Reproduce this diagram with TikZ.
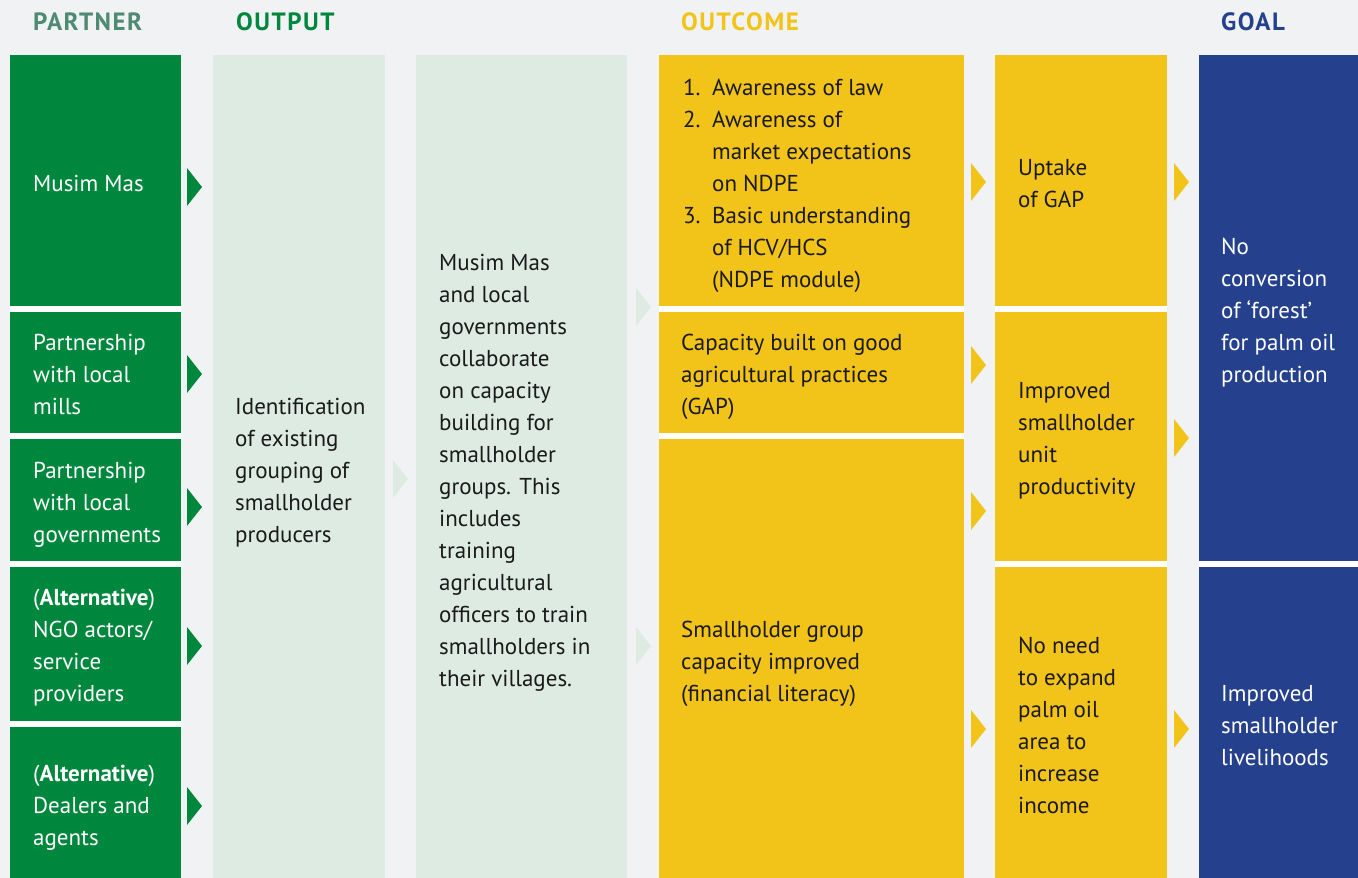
\documentclass[tikz,border=0pt]{standalone}
\usepackage{fontspec}
\setmainfont{PT Sans}
\usetikzlibrary{calc}
\definecolor{bg}{HTML}{F1F2F4}
\definecolor{dg}{HTML}{00873E}
\definecolor{lg}{HTML}{DEEBE2}
\definecolor{yl}{HTML}{F2C318}
\definecolor{bl}{HTML}{25418E}
\definecolor{ph}{HTML}{4F8A72}
\definecolor{ink}{HTML}{1A1A1A}
\newcommand{\bodyfont}{\fontsize{23}{32}\selectfont}
\newcommand{\headfont}{\fontsize{25}{28}\selectfont\bfseries\addfontfeatures{LetterSpace=6}}
\newcommand{\tri}[3]{\fill[#1] (#2,#3-19) -- ++(15,19) -- ++(-15,19) -- cycle;}
\tikzstyle{box}=[rectangle,inner sep=0pt,anchor=north west]
\tikzstyle{txt}=[anchor=west,align=left,inner sep=0pt,font=\bodyfont]
\tikzstyle{head}=[anchor=west,inner sep=0pt,font=\headfont]

\begin{document}
\begin{tikzpicture}[x=1pt,y=-1pt]
	\fill[bg] (0,0) rectangle (1358,878);
	\useasboundingbox (0,0) rectangle (1358,878);
	\fill[white] (10,55) rectangle (181,878);
	\fill[white] (659,55) rectangle (964,878);
	\fill[white] (995,55) rectangle (1167,878);
	\fill[white] (1199,55) rectangle (1358,878);

	\node[head,text=ph] (hp) at (33,22) {PARTNER};
	\node[head,text=dg] (ho) at (236,22) {OUTPUT};
	\node[head,text=yl] (hc) at (681,22) {OUTCOME};
	\node[head,text=bl] (hg) at (1221,22) {GOAL};

	\node[box,fill=dg,minimum width=171,minimum height=251] (p1) at (10,55) {};
	\node[box,fill=dg,minimum width=171,minimum height=121] (p2) at (10,312) {};
	\node[box,fill=dg,minimum width=171,minimum height=122] (p3) at (10,439) {};
	\node[box,fill=dg,minimum width=171,minimum height=154] (p4) at (10,567) {};
	\node[box,fill=dg,minimum width=171,minimum height=151] (p5) at (10,727) {};

	\node[box,fill=lg,minimum width=172,minimum height=823] (o1) at (213,55) {};
	\node[box,fill=lg,minimum width=211,minimum height=823] (o2) at (416,55) {};

	\node[box,fill=yl,minimum width=305,minimum height=251] (c1) at (659,55) {};
	\node[box,fill=yl,minimum width=305,minimum height=121] (c2) at (659,312) {};
	\node[box,fill=yl,minimum width=305,minimum height=439] (c3) at (659,439) {};

	\node[box,fill=yl,minimum width=172,minimum height=251] (d1) at (995,55) {};
	\node[box,fill=yl,minimum width=172,minimum height=249] (d2) at (995,312) {};
	\node[box,fill=yl,minimum width=172,minimum height=311] (d3) at (995,567) {};

	\node[box,fill=bl,minimum width=159,minimum height=506] (g1) at (1199,55) {};
	\node[box,fill=bl,minimum width=159,minimum height=311] (g2) at (1199,567) {};

	\node[txt,text=white] (p1t) at ([xshift=23pt,yshift=-3pt]p1.west) {Musim Mas};
	\node[txt,text=white] (p2t) at ([xshift=23pt,yshift=-2pt]p2.west) {Partnership\\with local\\mills};
	\node[txt,text=white] (p3t) at ([xshift=23pt,yshift=-5pt]p3.west) {Partnership\\with local\\governments};
	\node[txt,text=white] (p4t) at ([xshift=23pt,yshift=-3pt]p4.west) {(\textbf{Alternative})\\NGO actors/\\service\\providers};
	\node[txt,text=white] (p5t) at ([xshift=23pt,yshift=-5pt]p5.west) {(\textbf{Alternative})\\Dealers and\\agents};

	\node[txt,text=ink] (o1t) at ([xshift=22pt,yshift=-6pt]o1.west) {Identification\\of existing\\grouping of\\smallholder\\producers};
	\node[txt,text=ink] (o2t) at ([xshift=23pt,yshift=-6pt]o2.west) {Musim Mas\\and local\\governments\\collaborate\\on capacity\\building for\\smallholder\\groups. This\\includes\\training\\agricultural\\officers to train\\smallholders in\\their villages.};

	\node[txt,text=ink] (c1t) at ([xshift=24pt,yshift=-5pt]c1.west) {\makebox[29pt][l]{1.}Awareness of law\\\makebox[29pt][l]{2.}Awareness of\\\hspace*{29pt}market expectations\\\hspace*{29pt}on NDPE\\\makebox[29pt][l]{3.}Basic understanding\\\hspace*{29pt}of HCV/HCS\\\hspace*{29pt}(NDPE module)};
	\node[txt,text=ink] (c2t) at ([xshift=22pt,yshift=-4pt]c2.west) {Capacity built on good\\agricultural practices\\(GAP)};
	\node[txt,text=ink] (c3t) at ([xshift=22pt,yshift=-5pt]c3.west) {Smallholder group\\capacity improved\\(financial literacy)};

	\node[txt,text=ink] (d1t) at ([xshift=23pt,yshift=-3pt]d1.west) {Uptake\\of GAP};
	\node[txt,text=ink] (d2t) at ([xshift=23pt,yshift=-4pt]d2.west) {Improved\\smallholder\\unit\\productivity};
	\node[txt,text=ink] (d3t) at ([xshift=23pt,yshift=-3pt]d3.west) {No need\\to expand\\palm oil\\area to\\increase\\income};

	\node[txt,text=white] (g1t) at ([xshift=22pt,yshift=-4pt]g1.west) {No\\conversion\\of ‘forest’\\for palm oil\\production};
	\node[txt,text=white] (g2t) at ([xshift=22pt,yshift=-3pt]g2.west) {Improved\\smallholder\\livelihoods};

	\foreach \y in {187,374,507,646,806} {\tri{dg}{187}{\y}}
	\tri{lg}{393}{479}
	\foreach \y in {307,646} {\tri{lg}{636}{\y}}
	\foreach \y in {182,365,511,729} {\tri{yl}{971}{\y}}
	\foreach \y in {182,438,729} {\tri{yl}{1174}{\y}}
\end{tikzpicture}
\end{document}
